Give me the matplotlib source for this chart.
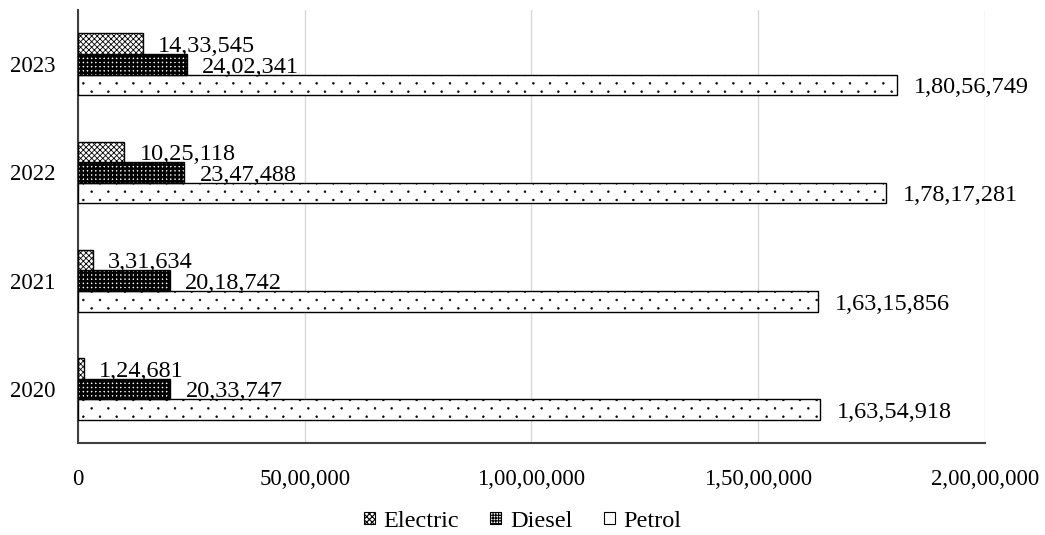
import matplotlib
matplotlib.use("Agg")
import matplotlib.pyplot as plt
import numpy as np
from matplotlib import hatch as mhatch
from matplotlib.path import Path
from matplotlib.patches import Patch

years = ["2020", "2021", "2022", "2023"]
electric = [124681, 331634, 1025118, 1433545]
diesel = [2033747, 2018742, 2347488, 2402341]
petrol = [16354918, 16315856, 17817281, 18056749]
xticks = [0, 5000000, 10000000, 15000000, 20000000]
xticklabels = ["0", "50,00,000", "1,00,00,000", "1,50,00,000", "2,00,00,000"]


def indian(n):
    s = str(int(n))
    if len(s) <= 3:
        return s
    last3 = s[-3:]
    rest = s[:-3]
    parts = []
    while len(rest) > 2:
        parts.insert(0, rest[-2:])
        rest = rest[:-2]
    if rest:
        parts.insert(0, rest)
    return ",".join(parts) + "," + last3


# Sparse staggered dot hatch (replaces the 'O' large-circle hatch)
class SparseDots(mhatch.HatchPatternBase):
    def __init__(self, hatch, density):
        n = hatch.count('O')
        self.nr = 12 * n
        self.nc = 6 * n
        circ = Path.unit_circle()
        self.sv = circ.vertices
        self.sc = circ.codes
        self.r = 0.009
        if n == 0:
            self.num_vertices = 0
        else:
            cnt = 0
            for row in range(self.nr + 1):
                cnt += (self.nc + 1) if row % 2 == 0 else self.nc
            self.num_vertices = cnt * len(self.sv)

    def set_vertices_and_codes(self, vertices, codes):
        sv = self.sv * self.r
        nv = len(sv)
        cur = 0
        for row in range(self.nr + 1):
            if row % 2 == 0:
                cols = np.linspace(0, 1, self.nc + 1)
            else:
                cols = np.linspace(0.5 / self.nc, 1 - 0.5 / self.nc, self.nc)
            yy = row / self.nr
            for xx in cols:
                vertices[cur:cur + nv] = sv + (xx, yy)
                codes[cur:cur + nv] = self.sc
                cur += nv


mhatch._hatch_types = [t for t in mhatch._hatch_types if t is not mhatch.LargeCircles]
mhatch._hatch_types.append(SparseDots)


def set_hlw(patches, lw):
    for p in patches:
        if hasattr(p, "set_hatch_linewidth"):
            p.set_hatch_linewidth(lw)


plt.rcParams['font.family'] = ['Liberation Serif', 'DejaVu Serif']
plt.rcParams['font.size'] = 16.5
plt.rcParams['hatch.linewidth'] = 0.8

fig = plt.figure(figsize=(10.45, 5.35), dpi=100)
ax = fig.add_axes([0.0746, 0.172, 0.868, 0.809])

y = np.arange(len(years))
h = 0.19
edge = "#404040"

# Petrol
b = ax.barh(y - h, petrol, height=h, color="white", edgecolor="black",
            hatch="O", linewidth=1.0, zorder=3)
set_hlw(b, 0.4)
# Diesel: black field with white dots
b = ax.barh(y, diesel, height=h, color="white", edgecolor="black",
            hatch="++++", linewidth=1.0, zorder=3)
set_hlw(b, 1.9)
# Electric
b = ax.barh(y + h, electric, height=h, color="white", edgecolor="black",
            hatch="xxxxxx", linewidth=1.0, zorder=3)
set_hlw(b, 0.6)

lab_fs = 17.5
for i in range(len(years)):
    ax.annotate(indian(electric[i]), (electric[i], y[i] + h), xytext=(11, -2),
                textcoords="offset points", va="center", ha="left", fontsize=lab_fs)
    ax.annotate(indian(diesel[i]), (diesel[i], y[i]), xytext=(11, -2),
                textcoords="offset points", va="center", ha="left", fontsize=lab_fs)
    ax.annotate(indian(petrol[i]), (petrol[i], y[i] - h), xytext=(12, -2),
                textcoords="offset points", va="center", ha="left", fontsize=lab_fs)

ax.set_xlim(0, 20000000)
ax.set_ylim(-0.5, 3.5)
ax.set_yticks(y)
ax.set_yticklabels(years)
ax.set_xticks(xticks)
ax.set_xticklabels(xticklabels)
ax.tick_params(axis="both", length=0)
ax.tick_params(axis="x", pad=19)
ax.tick_params(axis="y", pad=16)
ax.grid(axis="x", color="#d9d9d9", linewidth=1.0, zorder=0)
ax.set_axisbelow(True)
for s in ["top", "right"]:
    ax.spines[s].set_visible(False)
for s in ["left", "bottom"]:
    ax.spines[s].set_color(edge)
    ax.spines[s].set_linewidth(1.5)

handles = [
    Patch(facecolor="white", edgecolor="black", hatch="xxxxxx", linewidth=0.8, label="Electric"),
    Patch(facecolor="white", edgecolor="black", hatch="++++++", linewidth=0.8, label="Diesel"),
    Patch(facecolor="white", edgecolor="black", linewidth=0.8, label="Petrol"),
]
set_hlw(handles[:1], 0.6)
set_hlw(handles[1:2], 1.3)
fig.legend(handles=handles, loc="lower center", bbox_to_anchor=(0.5, -0.035),
           ncol=3, frameon=False, handlelength=0.45, handleheight=0.36,
           handletextpad=0.35, columnspacing=1.3, fontsize=17.5)

fig.savefig("out.png", dpi=100)
